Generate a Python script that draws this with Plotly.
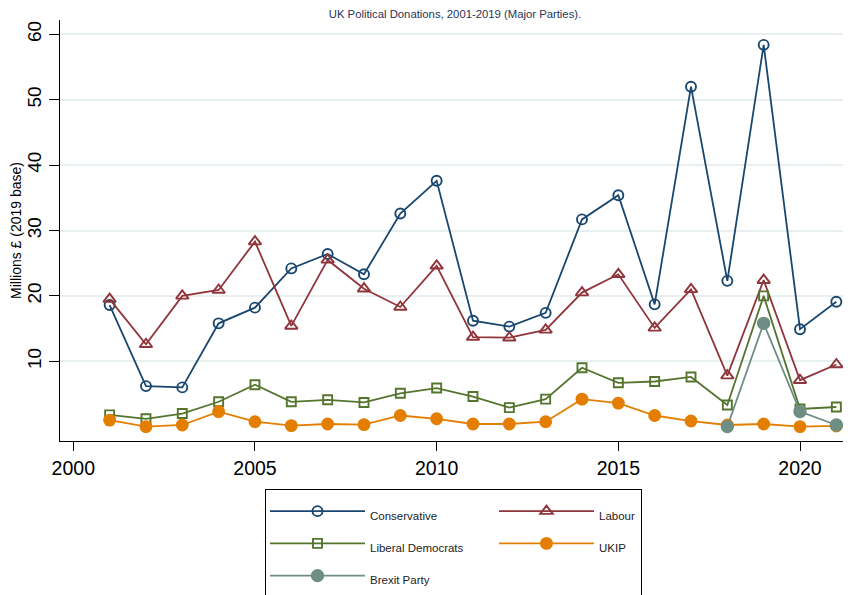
import plotly.graph_objects as go

years = list(range(2001, 2022))
conservative = [18.6, 6.2, 6.0, 15.8, 18.2, 24.2, 26.4, 23.3, 32.6, 37.6, 16.2, 15.3, 17.4,
                31.7, 35.4, 18.7, 52.0, 22.3, 58.4, 14.9, 19.1]
labour = [19.5, 12.6, 20.0, 20.9, 28.3, 15.4, 25.5, 21.1, 18.3, 24.6, 13.7, 13.6, 14.8,
          20.5, 23.3, 15.1, 21.0, 7.8, 22.4, 7.1, 9.5]
libdem = [1.8, 1.2, 2.0, 3.8, 6.4, 3.8, 4.1, 3.7, 5.1, 5.9, 4.6, 2.9, 4.2,
          9.0, 6.7, 6.9, 7.6, 3.3, 20.0, 2.7, 3.0]
ukip = [1.0, 0.0, 0.25, 2.3, 0.75, 0.15, 0.4, 0.3, 1.7, 1.2, 0.4, 0.4, 0.75,
        4.2, 3.6, 1.7, 0.85, 0.25, 0.4, 0.0, 0.1]
brexit_years = [2018, 2019, 2020, 2021]
brexit = [0.0, 15.8, 2.3, 0.25]

x_ticks = [2000, 2005, 2010, 2015, 2020]
y_ticks = [10, 20, 30, 40, 50, 60]

FONT = "Liberation Sans, Arial, sans-serif"

NAVY = "#1a476f"
MAROON = "#90353b"
GREEN = "#55752f"
ORANGE = "#e37e00"
TEAL = "#6e8e84"

# the page body adds an 8px offset; the figure is sized/placed to compensate
W, H, OFF = 843, 587, 8
LEG_FS = 22.5


def lab(t):
    return f'<span style="font-size:11.5px">{t}</span>'


fig = go.Figure()

series = [
    ("Conservative", years, conservative, NAVY, "circle-open", 10, "a", 119),
    ("Labour", years, labour, MAROON, "triangle-up-open", 11, "b", 37),
    ("Liberal Democrats", years, libdem, GREEN, "square-open", 9, "a", 119),
    ("UKIP", years, ukip, ORANGE, "circle", 11, "b", 37),
    ("Brexit Party", brexit_years, brexit, TEAL, "circle", 11.5, "a", 119),
]

for name, xs, ys, col, sym, sz, grp, lw in series:
    fig.add_trace(go.Scatter(
        x=xs, y=ys, name=lab(name), mode="lines+markers",
        line=dict(color=col, width=1.8),
        marker=dict(symbol=sym, size=sz, color=col,
                    line=dict(color=col, width=1.9)),
        legendgroup=grp, legendwidth=lw,
    ))

fig.update_layout(
    width=W, height=H,
    margin=dict(l=60 - OFF, r=1, t=20 - OFF, b=154),
    paper_bgcolor="white", plot_bgcolor="white",
    font=dict(family=FONT, color="black"),
    title=dict(text="UK Political Donations, 2001-2019 (Major Parties).",
               x=0.5, xref="paper", y=1 - 2.5 / H, yref="container",
               xanchor="center", yanchor="top", pad=dict(t=0),
               font=dict(family=FONT, size=11.3, color="#27355a")),
    showlegend=True,
    legend=dict(orientation="h", x=(265 - OFF) / W, y=1 - (489 - OFF) / H,
                xanchor="left", yanchor="top", xref="container", yref="container",
                bordercolor="black", borderwidth=1, bgcolor="white",
                itemwidth=95, font=dict(family=FONT, size=LEG_FS, color="#222222"),
                traceorder="grouped"),
    xaxis=dict(range=[1999.634, 2021.376], tickvals=x_ticks,
               ticktext=[str(v) for v in x_ticks], automargin=False,
               showline=True, linecolor="black", linewidth=1.3,
               ticks="outside", ticklen=9, tickwidth=1.3, tickcolor="black",
               tickfont=dict(family=FONT, size=19.5, color="black"),
               showgrid=False, zeroline=False),
    yaxis=dict(range=[-2.2, 62.2], tickvals=y_ticks,
               ticktext=[str(v) for v in y_ticks], tickangle=-90, automargin=False,
               showline=True, linecolor="black", linewidth=1.3,
               ticks="outside", ticklen=10, tickwidth=1.3, tickcolor="black",
               tickfont=dict(family=FONT, size=19, color="black"),
               showgrid=True, gridcolor="#e8eff1", gridwidth=1.5,
               zeroline=False,
               title=dict(text="Millions £ (2019 base)", standoff=0,
                          font=dict(family=FONT, size=14, color="black"))),
)

fig.write_html("out.html")
